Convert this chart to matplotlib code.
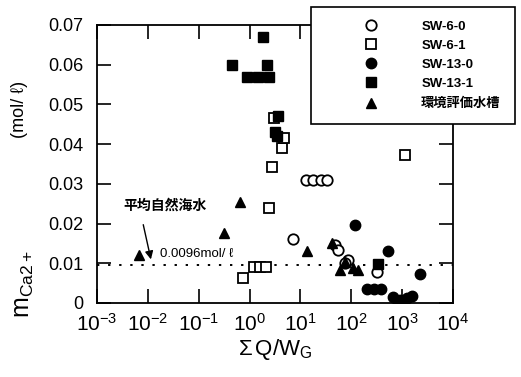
import matplotlib
matplotlib.use("Agg")
import matplotlib.pyplot as plt
from matplotlib.lines import Line2D

plt.rcParams['font.family'] = ['Liberation Sans', 'Noto Sans CJK JP', 'DejaVu Sans']
plt.rcParams['mathtext.fontset'] = 'custom'
plt.rcParams['mathtext.rm'] = 'Liberation Sans'
plt.rcParams['mathtext.it'] = 'Liberation Sans'

# SW-6-0 (open circles)
sw60_x = [13, 18, 25, 34, 7.0, 47, 54, 85, 74, 318]
sw60_y = [0.031, 0.031, 0.031, 0.031, 0.016, 0.0146, 0.0133, 0.0108, 0.0100, 0.0078]

# SW-6-1 (open squares)
sw61_x = [0.73, 1.2, 1.6, 2.1, 2.4, 2.7, 4.3, 3.0, 4.7, 1130]
sw61_y = [0.0063, 0.0091, 0.0091, 0.0091, 0.024, 0.0343, 0.039, 0.0466, 0.0415, 0.0373]

# SW-13-0 (filled circles)
sw130_x = [117, 523, 2240, 202, 277, 381, 656, 823, 901, 1240, 1550]
sw130_y = [0.0196, 0.0131, 0.0073, 0.0035, 0.0035, 0.0035, 0.0015, 0.0002, 0.0008, 0.0013, 0.0018]

# SW-13-1 (filled squares)
sw131_x = [1.81, 0.46, 2.17, 0.88, 1.44, 2.38, 3.57, 3.12, 3.4, 332]
sw131_y = [0.067, 0.060, 0.060, 0.057, 0.057, 0.057, 0.047, 0.043, 0.042, 0.0098]

# tank test (filled triangles)
tank_x = [0.0066, 0.31, 0.64, 13.3, 41, 59, 74.5, 107, 134]
tank_y = [0.012, 0.0175, 0.0255, 0.0131, 0.0151, 0.0083, 0.0103, 0.0088, 0.0083]

seawater = 0.0096

series_labels = ['SW-6-0', 'SW-6-1', 'SW-13-0', 'SW-13-1', '環境評価水槽']
y_ticks = [0, 0.01, 0.02, 0.03, 0.04, 0.05, 0.06, 0.07]
y_ticklabels = ['0', '0.01', '0.02', '0.03', '0.04', '0.05', '0.06', '0.07']
x_ticks = [1e-3, 1e-2, 1e-1, 1e0, 1e1, 1e2, 1e3, 1e4]

fig = plt.figure(figsize=(5.21, 3.77), dpi=100)
ax = fig.add_axes([0.1862, 0.1963, 0.6833, 0.7374])

ms = 7.5
styles = [
    dict(marker='o', mfc='white', mec='black', mew=1.3),
    dict(marker='s', mfc='white', mec='black', mew=1.3),
    dict(marker='o', mfc='black', mec='black', mew=1.0),
    dict(marker='s', mfc='black', mec='black', mew=1.0),
    dict(marker='^', mfc='black', mec='black', mew=1.0),
]
data = [(sw60_x, sw60_y), (sw61_x, sw61_y), (sw130_x, sw130_y),
        (sw131_x, sw131_y), (tank_x, tank_y)]

for (xs, ys), st in zip(data, styles):
    ax.plot(xs, ys, linestyle='none', ms=ms, zorder=3, **st)

ax.axhline(seawater, color='black', lw=1.4, linestyle=(0, (1.2, 4.5)), zorder=2)

ax.set_xscale('log')
ax.set_xlim(1e-3, 1e4)
ax.set_ylim(0, 0.07)
ax.set_xticks(x_ticks)
ax.set_yticks(y_ticks)
ax.set_yticklabels(y_ticklabels)
ax.minorticks_off()
ax.tick_params(direction='in', length=10, width=1.2, top=True, right=True)
ax.tick_params(axis='x', labelsize=15, pad=7)
ax.tick_params(axis='y', labelsize=13, pad=10)
for sp in ax.spines.values():
    sp.set_linewidth(1.3)

ax.set_xlabel(r'$\mathdefault{\Sigma\,Q/W_G}$', fontsize=16, labelpad=2)

# y axis label in two pieces
fig.text(0.046, 0.245, r'm$_{\mathdefault{Ca2+}}$', rotation=90, fontsize=18,
         ha='center', va='center')
fig.text(0.038, 0.71, '(mol/ ℓ)', rotation=90, fontsize=13,
         ha='center', va='center', family=['Liberation Sans', 'DejaVu Sans'])

# natural seawater note
ax.text(0.022, 0.0244, '平均自然海水', fontsize=10, weight='bold',
        ha='center', va='center', family=['Noto Sans CJK JP'])
ax.annotate('', xy=(0.0118, 0.0103), xytext=(0.0079, 0.0204),
            arrowprops=dict(arrowstyle='-|>', color='black', lw=1.0,
                            mutation_scale=12))
ax.text(0.017, 0.0123, '0.0096mol/ ℓ', fontsize=9.5, ha='left', va='center',
        family=['Liberation Sans', 'DejaVu Sans'])

handles = [Line2D([], [], linestyle='none', ms=ms, **st) for st in styles]
leg = fig.legend(handles, series_labels, loc='upper left',
                 bbox_to_anchor=(311 / 521, 1 - 7 / 377),
                 bbox_transform=fig.transFigure, frameon=True, fancybox=False,
                 edgecolor='black', framealpha=1, fontsize=9.5,
                 handlelength=7.0, handletextpad=0.3, labelspacing=0.5,
                 borderpad=1.05, borderaxespad=0)
leg.get_frame().set_linewidth(1.2)
for i, t in enumerate(leg.get_texts()):
    t.set_weight('bold')
    if i == 4:
        t.set_fontsize(9.5)
        t.set_family(['Noto Sans CJK JP'])

fig.savefig('out.png', dpi=100)
